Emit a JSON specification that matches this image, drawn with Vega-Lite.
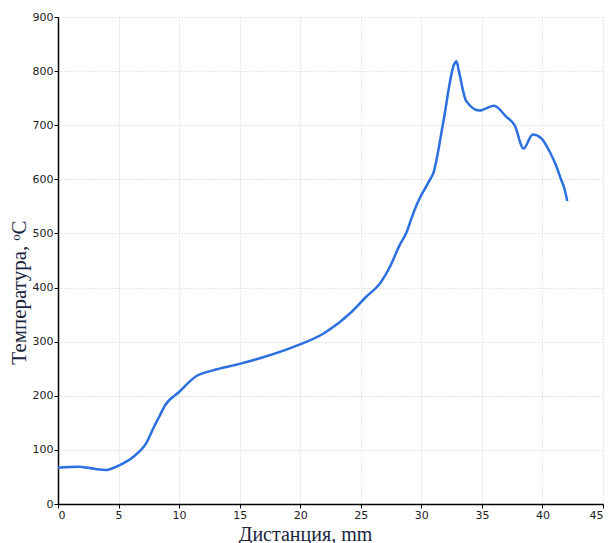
{
  "$schema": "https://vega.github.io/schema/vega-lite/v6.json",
  "autosize": "none",
  "width": 545,
  "height": 487,
  "padding": {"left": 58, "top": 17, "right": 6, "bottom": 39},
  "background": "white",
  "config": {"view": {"stroke": null}},
  "data": {"values": [
    {"x": 0, "t": 67},
    {"x": 1.7, "t": 69},
    {"x": 3, "t": 65},
    {"x": 4, "t": 63},
    {"x": 5, "t": 71},
    {"x": 6.2, "t": 87},
    {"x": 7.3, "t": 113},
    {"x": 8.0, "t": 146},
    {"x": 8.4, "t": 163},
    {"x": 8.8, "t": 181},
    {"x": 10.0, "t": 207},
    {"x": 11.4, "t": 236},
    {"x": 12.8, "t": 247},
    {"x": 15.0, "t": 259},
    {"x": 16.6, "t": 269},
    {"x": 19.4, "t": 290},
    {"x": 22.0, "t": 316},
    {"x": 24.2, "t": 354},
    {"x": 25.45, "t": 383},
    {"x": 26.6, "t": 408},
    {"x": 27.4, "t": 438},
    {"x": 28.2, "t": 478},
    {"x": 28.8, "t": 503},
    {"x": 29.2, "t": 529},
    {"x": 29.7, "t": 557},
    {"x": 30.7, "t": 599},
    {"x": 31.0, "t": 612},
    {"x": 31.8, "t": 704},
    {"x": 32.7, "t": 812},
    {"x": 32.9, "t": 818},
    {"x": 33.1, "t": 800},
    {"x": 33.7, "t": 745},
    {"x": 34.8, "t": 727},
    {"x": 36.0, "t": 736},
    {"x": 37.0, "t": 716},
    {"x": 37.7, "t": 700},
    {"x": 38.44, "t": 657},
    {"x": 39.2, "t": 683},
    {"x": 39.9, "t": 676},
    {"x": 40.6, "t": 651},
    {"x": 41.1, "t": 627},
    {"x": 41.55, "t": 599},
    {"x": 41.8, "t": 584},
    {"x": 42.05, "t": 560}
  ]},
  "mark": {"type": "line", "color": "#2b6fe0", "strokeWidth": 2.5, "interpolate": "monotone"},
  "encoding": {
    "x": {
      "field": "x", "type": "quantitative",
      "scale": {"domain": [0, 45], "nice": false},
      "axis": {
        "title": "Дистанция, mm", "values": [0,5,10,15,20,25,30,35,40,45],
        "titleFont": "Liberation Serif", "titleFontSize": 20, "titleFontWeight": "normal", "titleColor": "#1a2540",
        "titleX": 247, "titleY": 36, "titleBaseline": "alphabetic", "titleAnchor": "middle",
        "labelFont": "DejaVu Sans", "labelFontSize": 11, "labelColor": "#222",
        "domainColor": "#000", "domainWidth": 1.5, "tickColor": "#000", "tickSize": 4, "labelPadding": 1,
        "grid": true, "gridColor": "#cfcfcf", "gridDash": [1, 2], "gridWidth": 1
      }
    },
    "y": {
      "field": "t", "type": "quantitative",
      "scale": {"domain": [0, 900], "nice": false},
      "axis": {
        "title": "Температура, ᵒC", "values": [0,100,200,300,400,500,600,700,800,900],
        "titleFont": "Liberation Serif", "titleFontSize": 21, "titleFontWeight": "normal", "titleColor": "#1a2540",
        "titleX": -33, "titleY": 275, "titleAnchor": "middle", "titleBaseline": "alphabetic",
        "labelFont": "DejaVu Sans", "labelFontSize": 11, "labelColor": "#222",
        "domainColor": "#000", "domainWidth": 1.5, "tickColor": "#000", "tickSize": 4, "labelPadding": 1,
        "grid": true, "gridColor": "#cfcfcf", "gridDash": [1, 2], "gridWidth": 1
      }
    }
  }
}
